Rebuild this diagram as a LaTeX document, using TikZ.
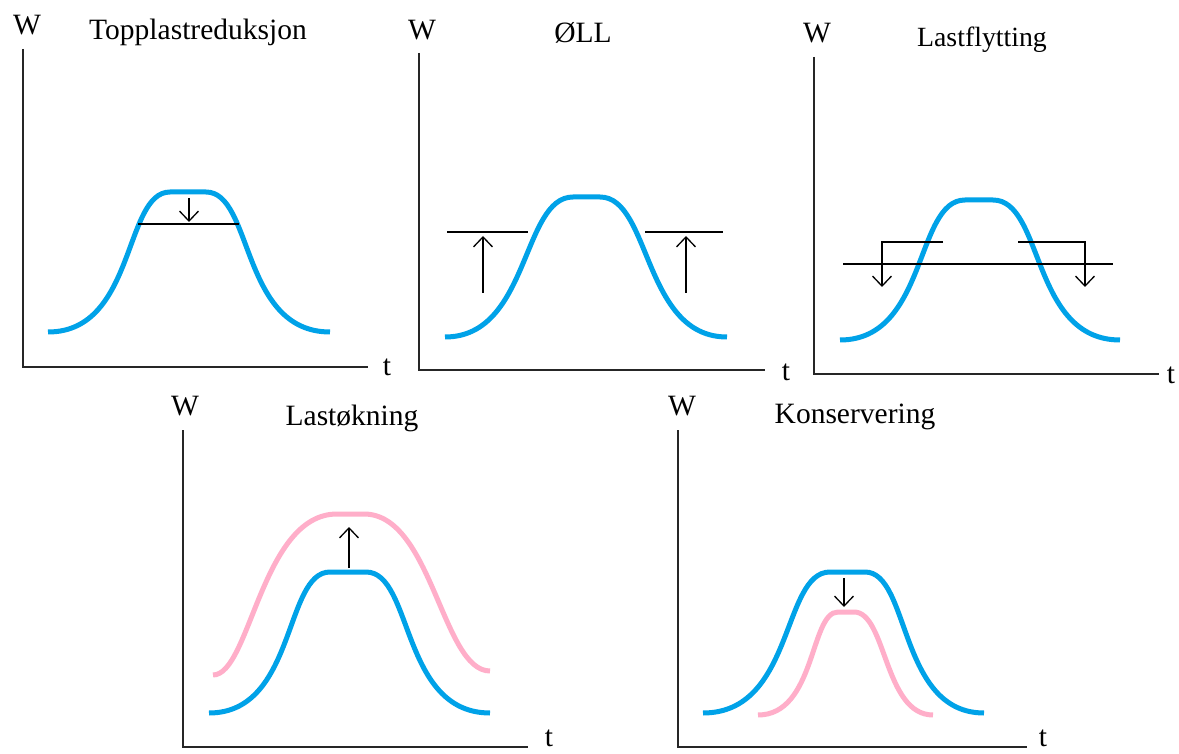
\documentclass[tikz,border=0pt]{standalone}
\usepackage{fontspec}
\setmainfont{Liberation Serif}
\usetikzlibrary{arrows.meta}
\definecolor{curveblue}{RGB}{0,162,232}
\definecolor{curvepink}{RGB}{255,174,201}
% half of a bump: from (#1,#2) to (#3,#4), horizontal tangents at both ends
\newcommand{\seg}[6]{.. controls ({#1+#5*(#3-#1)},#2) and ({#1+#6*(#3-#1)},#4) .. (#3,#4)}
\tikzset{
  axisline/.style={line width=2pt, black!85},
  bluecurve/.style={line width=5pt, curveblue},
  pinkcurve/.style={line width=5pt, curvepink},
  levelline/.style={line width=1.5pt, black},
  arr/.style={line width=1.3pt, black, -{Straight Barb[length=10pt,width=19pt]}},
  lbl/.style={font=\fontsize{29.5}{32}\selectfont, anchor=base, inner sep=0pt},
}
\begin{document}
\begin{tikzpicture}[x=1pt,y=-1pt]
\useasboundingbox (0,0) rectangle (1179,754);
\fill[white] (0,0) rectangle (1179,754);

% ---------- Panel 1: Topplastreduksjon
\draw[axisline] (23,49) -- (23,367) -- (368,367);
\node[lbl] (w1) at (27,35) {W};
\node[lbl] (t1) at (387,375) {t};
\node[lbl] (title1) at (198,40) {Topplastreduksjon};
\draw[bluecurve] (48,332) \seg{48}{332}{170}{192}{0.72}{0.62} -- (206,192)
  \seg{206}{192}{330}{332}{0.38}{0.28};
\draw[levelline] (138,224) -- (239,224);
\coordinate (a1s) at (189,198);
\coordinate (a1e) at (189,222);
\draw[arr] (a1s) -- (a1e);

% ---------- Panel 2: ØLL
\draw[axisline] (419,53) -- (419,370) -- (765,370);
\node[lbl] (w2) at (422,40) {W};
\node[lbl] (t2) at (786,380) {t};
\node[lbl] (title2) at (583,43) {ØLL};
\draw[bluecurve] (445,337) \seg{445}{337}{573}{197}{0.66}{0.6} -- (600,197)
  \seg{600}{197}{727}{337}{0.4}{0.34};
\draw[levelline] (447,232) -- (528,232);
\draw[levelline] (645,232) -- (723,232);
\coordinate (a2s) at (483,293);
\coordinate (a2e) at (483,236);
\draw[arr] (a2s) -- (a2e);
\coordinate (a3s) at (686,293);
\coordinate (a3e) at (686,236);
\draw[arr] (a3s) -- (a3e);

% ---------- Panel 3: Lastflytting
\draw[axisline] (814,57) -- (814,374) -- (1159,374);
\node[lbl] (w3) at (817,43) {W};
\node[lbl] (t3) at (1171,383) {t};
\node[lbl, font=\fontsize{27.8}{30}\selectfont] (title3) at (982,47) {Lastflytting};
\draw[bluecurve] (840,340) \seg{840}{340}{965}{200}{0.7}{0.6} -- (993,200)
  \seg{993}{200}{1120}{340}{0.4}{0.3};
\draw[levelline] (843,264) -- (1113,264);
\coordinate (b1s) at (943,242);
\coordinate (b1c) at (882,242);
\coordinate (b1e) at (882,287);
\draw[arr] (b1s) -- (b1c) -- (b1e);
\coordinate (b2s) at (1018,242);
\coordinate (b2c) at (1085,242);
\coordinate (b2e) at (1085,287);
\draw[arr] (b2s) -- (b2c) -- (b2e);

% ---------- Panel 4: Lastøkning
\draw[axisline] (183,430) -- (183,747) -- (528,747);
\node[lbl] (w4) at (185,415) {W};
\node[lbl] (t4) at (549,746) {t};
\node[lbl] (title4) at (352,425) {Lastøkning};
\draw[pinkcurve] (213,675) \seg{213}{675}{337}{514}{0.3}{0.39} -- (364,514)
  \seg{364}{514}{490}{671}{0.54}{0.62};
\draw[bluecurve] (209,713) \seg{209}{713}{330}{572}{0.72}{0.62} -- (366,572)
  \seg{366}{572}{490}{713}{0.38}{0.28};
\coordinate (c1s) at (349,568);
\coordinate (c1e) at (349,527);
\draw[arr] (c1s) -- (c1e);

% ---------- Panel 5: Konservering
\draw[axisline] (678,430) -- (678,747) -- (1027,747);
\node[lbl] (w5) at (682,415) {W};
\node[lbl] (t5) at (1043,746) {t};
\node[lbl] (title5) at (855,423) {Konservering};
\draw[bluecurve] (703,713) \seg{703}{713}{830}{572}{0.72}{0.62} -- (865,572)
  \seg{865}{572}{984}{713}{0.38}{0.28};
\draw[pinkcurve] (758,715) \seg{758}{715}{838}{612}{0.72}{0.65} -- (854,612)
  \seg{854}{612}{933}{715}{0.41}{0.38};
\coordinate (d1s) at (844,578);
\coordinate (d1e) at (844,607);
\draw[arr] (d1s) -- (d1e);
\end{tikzpicture}
\end{document}
